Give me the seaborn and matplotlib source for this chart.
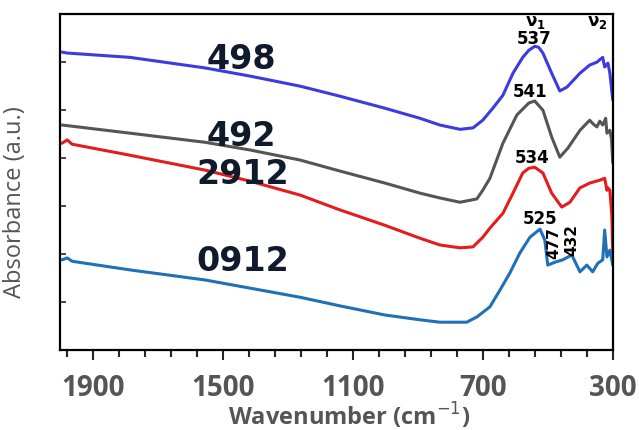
import matplotlib
matplotlib.use("Agg")
import matplotlib.pyplot as plt
import seaborn as sns
import pandas as pd
from matplotlib.ticker import FixedLocator

# ---- data ----
wn_498 = [1994, 1978, 1785, 1554, 1416, 1262, 1139, 1001, 893, 832, 770, 730, 700, 669, 638,
          607, 577, 558, 540, 528, 515, 488, 463, 441, 401, 371, 349, 331, 325, 315, 309, 300]
abs_498 = [6.21, 6.19, 6.10, 5.88, 5.71, 5.50, 5.29, 5.04, 4.83, 4.69, 4.60, 4.63, 4.79, 5.04, 5.31,
           5.77, 6.10, 6.25, 6.33, 6.31, 6.19, 5.77, 5.40, 5.48, 5.77, 5.94, 6.00, 6.10, 5.90, 5.98,
           5.77, 5.21]

wn_492 = [1994, 1785, 1554, 1416, 1262, 1139, 1001, 893, 832, 770, 718, 700, 678, 638, 595,
          558, 540, 515, 488, 463, 438, 401, 371, 360, 349, 340, 331, 322, 318, 309, 304, 300]
abs_492 = [4.69, 4.52, 4.33, 4.17, 3.96, 3.73, 3.48, 3.27, 3.17, 3.08, 3.15, 3.33, 3.58, 4.31, 4.90,
           5.15, 5.19, 5.00, 4.44, 4.02, 4.21, 4.58, 4.79, 4.71, 4.65, 4.77, 4.69, 4.83, 4.52, 4.58,
           4.40, 3.90]

wn_2912 = [1994, 1978, 1963, 1785, 1554, 1416, 1262, 1139, 1001, 893, 832, 770, 730, 700, 678,
           638, 607, 577, 558, 540, 515, 488, 457, 432, 401, 371, 340, 325, 318, 315, 309, 303, 300]
abs_2912 = [4.31, 4.38, 4.29, 4.06, 3.75, 3.52, 3.23, 2.92, 2.60, 2.33, 2.19, 2.13, 2.15, 2.35, 2.54,
            2.85, 3.27, 3.69, 3.79, 3.81, 3.69, 3.27, 2.98, 3.08, 3.38, 3.48, 3.54, 3.58, 3.33, 3.38,
            3.33, 2.81, 1.98]

wn_0912 = [1994, 1978, 1963, 1785, 1554, 1416, 1262, 1139, 1001, 893, 832, 749, 718, 678, 647,
           617, 586, 555, 524, 509, 500, 478, 454, 426, 401, 380, 362, 346, 331, 325, 318, 309, 300]
abs_0912 = [1.88, 1.92, 1.85, 1.67, 1.46, 1.29, 1.10, 0.92, 0.73, 0.63, 0.58, 0.58, 0.69, 0.90, 1.25,
            1.60, 2.02, 2.35, 2.52, 2.29, 1.77, 1.83, 1.88, 1.98, 1.63, 1.77, 1.63, 1.81, 1.88, 2.50,
            1.94, 2.08, 1.77]

series_names = ["498", "492", "2912", "0912"]
series_colors = ["#3b3be0", "#555555", "#e41c1c", "#1f70b5"]
peak_labels = ["537", "541", "534", "525"]
band_labels = ["477", "432"]
x_ticks = [1900, 1500, 1100, 700, 300]

frames = []
for name, wn, ab in zip(series_names,
                        [wn_498, wn_492, wn_2912, wn_0912],
                        [abs_498, abs_492, abs_2912, abs_0912]):
    frames.append(pd.DataFrame({"wavenumber": wn, "absorbance": ab, "sample": name}))
df = pd.concat(frames, ignore_index=True)

sns.set_style("ticks")
fig = plt.figure(figsize=(6.39, 4.30), dpi=100)
ax = fig.add_axes([0.094, 0.186, 0.865, 0.781])

sns.lineplot(data=df, x="wavenumber", y="absorbance", hue="sample",
             hue_order=series_names, palette=series_colors, estimator=None,
             sort=True, linewidth=2.2, legend=False, ax=ax)

ax.set_xlim(2000, 300)
ax.set_ylim(0, 7)

ax.xaxis.set_major_locator(FixedLocator(x_ticks))
ax.xaxis.set_minor_locator(FixedLocator([1980 - 80 * i for i in range(22)]))
ax.yaxis.set_major_locator(FixedLocator([1, 2, 3, 4, 5, 6]))
ax.set_yticklabels([])
ax.tick_params(axis="x", which="major", direction="out", length=7, width=1.5,
               labelsize=20, labelcolor="#555555", pad=10)
ax.tick_params(axis="x", which="minor", direction="out", length=5, width=1.5)
ax.tick_params(axis="y", which="major", direction="in", length=4, width=1.2)
for lab in ax.get_xticklabels():
    lab.set_fontweight("bold")
    lab.set_family("Open Sans")
for s in ax.spines.values():
    s.set_linewidth(1.6)
    s.set_color("black")

ax.set_xlabel("Wavenumber (cm$^{-1}$)", fontsize=17, fontweight="bold",
              color="#555555", family="Open Sans")
ax.xaxis.set_label_coords(0.523, -0.152)
ax.set_ylabel("Absorbance (a.u.)", fontsize=17, color="#555555", family="Open Sans")
ax.yaxis.set_label_coords(-0.06, 0.44)

# sample labels
name_font = dict(fontsize=24, fontweight="bold", color="#0f1a2c",
                 family="DejaVu Sans", ha="center", va="center")
name_pos = [(1443, 6.05), (1443, 4.45), (1437, 3.65), (1437, 1.85)]
for name, (xv, yv) in zip(series_names, name_pos):
    ax.text(xv, yv, name, **name_font)

# peak labels
pk_font = dict(fontsize=12, fontweight="bold", color="black", ha="center", va="center")
pk_pos = [(542, 6.48), (555, 5.38), (549, 4.0), (524, 2.73)]
for lab, (xv, yv) in zip(peak_labels, pk_pos):
    ax.text(xv, yv, lab, **pk_font)
band_font = dict(pk_font, fontsize=11)
band_pos = [(480, 2.22), (426, 2.30)]
for lab, (xv, yv) in zip(band_labels, band_pos):
    ax.text(xv, yv, lab, rotation=90, **band_font)

ax.text(537, 6.84, r"$\mathbf{\nu_1}$", fontsize=12, ha="center", va="center", color="black")
ax.text(349, 6.84, r"$\mathbf{\nu_2}$", fontsize=12, ha="center", va="center", color="black")

fig.savefig("out.png", dpi=100)
